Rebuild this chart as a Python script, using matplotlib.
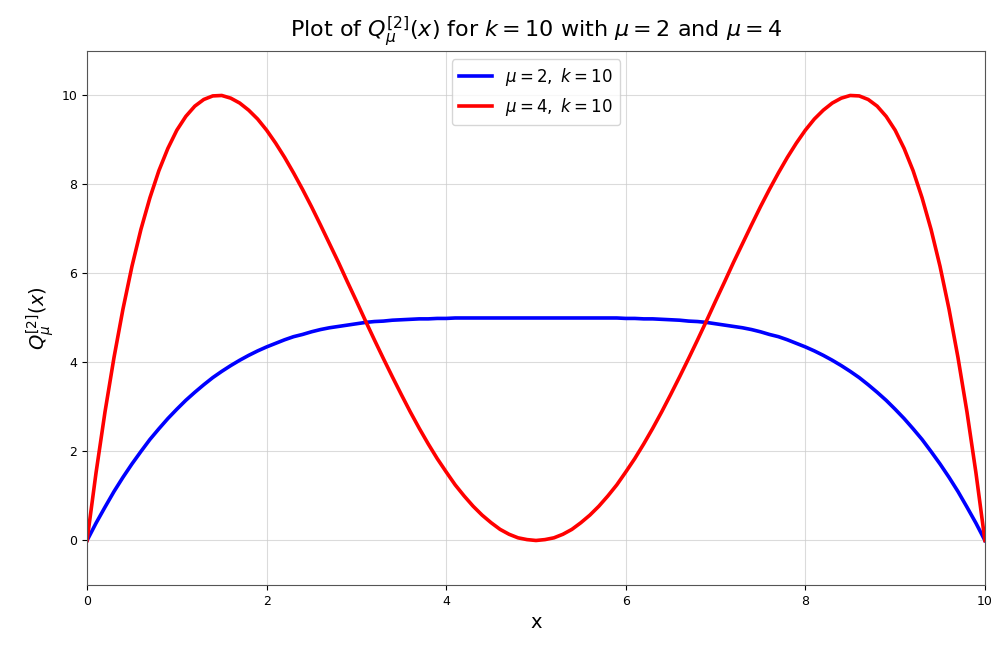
import matplotlib
matplotlib.use("Agg")
import matplotlib.pyplot as plt

# valores (x de 0 a 5, la otra mitad es simetrica)
x_mitad = [0.0, 0.1, 0.2, 0.3, 0.4, 0.5, 0.6, 0.7, 0.8, 0.9,
           1.0, 1.1, 1.2, 1.3, 1.4, 1.5, 1.6, 1.7, 1.8, 1.9,
           2.0, 2.1, 2.2, 2.3, 2.4, 2.5, 2.6, 2.7, 2.8, 2.9,
           3.0, 3.1, 3.2, 3.3, 3.4, 3.5, 3.6, 3.7, 3.8, 3.9,
           4.0, 4.1, 4.2, 4.3, 4.4, 4.5, 4.6, 4.7, 4.8, 4.9, 5.0]
azul_mitad = [0.0, 0.39, 0.75, 1.10, 1.42, 1.72, 2.0, 2.27, 2.51, 2.74,
              2.95, 3.15, 3.33, 3.50, 3.66, 3.80, 3.93, 4.05, 4.16, 4.26,
              4.35, 4.43, 4.51, 4.58, 4.63, 4.69, 4.74, 4.78, 4.81, 4.84,
              4.87, 4.90, 4.92, 4.93, 4.95, 4.96, 4.97, 4.98, 4.98, 4.99,
              4.99, 5.0, 5.0, 5.0, 5.0, 5.0, 5.0, 5.0, 5.0, 5.0, 5.0]
rojo_mitad = [0.0, 1.52, 2.89, 4.11, 5.20, 6.16, 6.99, 7.70, 8.31, 8.81,
              9.22, 9.53, 9.76, 9.91, 9.99, 10.0, 9.94, 9.83, 9.67, 9.47,
              9.22, 8.93, 8.61, 8.26, 7.89, 7.50, 7.09, 6.67, 6.25, 5.81,
              5.38, 4.94, 4.51, 4.09, 3.68, 3.28, 2.89, 2.52, 2.17, 1.84,
              1.54, 1.25, 1.0, 0.77, 0.57, 0.40, 0.25, 0.14, 0.06, 0.02, 0.0]

x = x_mitad + [round(10.0 - v, 1) for v in reversed(x_mitad[:-1])]
azul = azul_mitad + list(reversed(azul_mitad[:-1]))
rojo = rojo_mitad + list(reversed(rojo_mitad[:-1]))

fig = plt.figure(figsize=(10.04, 6.51), dpi=100)
ax = fig.add_axes([0.0867, 0.1014, 0.8943, 0.8203])

ax.plot(x, azul, color="blue", lw=2.6, solid_joinstyle="round", label=r"$\mu = 2,\ k = 10$")
ax.plot(x, rojo, color="red", lw=2.6, solid_joinstyle="round", label=r"$\mu = 4,\ k = 10$")

ax.set_xlim(0, 10)
ax.set_ylim(-1, 11)
ax.set_xticks([0, 2, 4, 6, 8, 10])
ax.set_yticks([0, 2, 4, 6, 8, 10])
ax.tick_params(labelsize=9)
ax.grid(True, color="#cccccc", alpha=0.7, lw=0.8)
for s in ax.spines.values():
    s.set_color("#555555")

ax.set_title(r"Plot of $Q_{\mu}^{[2]}(x)$ for $k = 10$ with $\mu = 2$ and $\mu = 4$",
             fontsize=16, pad=10)
ax.set_xlabel("x", fontsize=14)
ax.set_ylabel(r"$Q_{\mu}^{[2]}(x)$", fontsize=14)
ax.legend(loc="upper center", fontsize=12)

fig.savefig("out.png", dpi=100)
